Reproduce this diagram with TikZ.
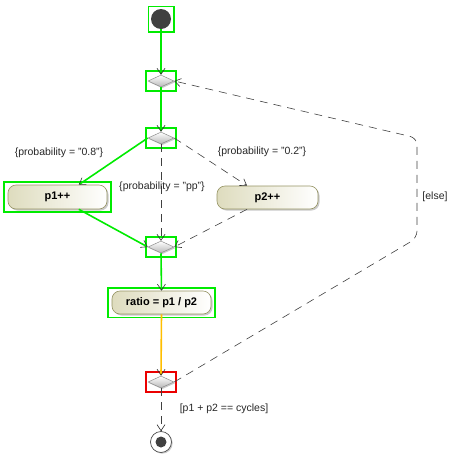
\documentclass[tikz,border=0pt]{standalone}
\usepackage{fontspec}
\setmainfont{Liberation Sans}
\usetikzlibrary{arrows.meta,shapes.geometric,shadows,fit}
\definecolor{selgreen}{RGB}{0,235,0}
\definecolor{selred}{RGB}{235,0,0}
\definecolor{actfill}{RGB}{222,220,190}
\definecolor{actborder}{RGB}{150,148,100}
\definecolor{hotflow}{RGB}{255,190,0}
\newcommand{\guardfont}{\fontsize{10.5}{12}\selectfont}

\begin{document}
\begin{tikzpicture}[x=1pt,y=-1pt,
    tip/.style={-{Straight Barb[length=6pt,width=8pt,color=black!80,line width=0.6pt]}},
    flow/.style={tip, draw=black!75, line width=0.6pt, dash pattern=on 8pt off 6pt},
    active/.style={tip, draw=selgreen, line width=1.6pt},
    hot/.style={tip, draw=hotflow, line width=1.6pt},
    action/.style={rectangle, rounded corners=8pt, draw=actborder, line width=0.6pt,
        left color=actfill, right color=white, minimum width=99pt, minimum height=24pt,
        inner sep=0pt, font=\bfseries\fontsize{11}{12}\selectfont,
        drop shadow={shadow xshift=1.5pt, shadow yshift=-1.5pt, fill=black!35, opacity=0.6}},
    decision/.style={diamond, draw=black!45, line width=0.5pt, top color=white,
        bottom color=black!28, minimum width=26pt, minimum height=12pt, inner sep=0pt,
        drop shadow={shadow xshift=1.2pt, shadow yshift=-1.2pt, fill=black!35, opacity=0.6}},
    selbox/.style={rectangle, draw=selgreen, line width=1.6pt, inner sep=0pt},
    guard/.style={font=\guardfont, text=black!85, inner sep=1pt},
]
    \useasboundingbox (0,0) rectangle (453,461);

    \node[circle, fill=black!75, minimum size=20pt, inner sep=0pt] (init) at (161,19) {};
    \node[decision] (d1) at (161,81) {};
    \node[decision] (d2) at (161,138) {};
    \node[action] (p1) at (57.5,197) {p1++};
    \node[action, minimum width=101pt, minimum height=23pt] (p2) at (267.5,197.5) {p2++};
    \node[decision] (m) at (161,247) {};
    \node[action, minimum height=23pt] (ratio) at (161.5,302.5) {ratio = p1 / p2};
    \node[decision] (d3) at (161,382) {};
    \node[circle, draw=black!70, line width=0.7pt, fill=white, minimum size=21pt, inner sep=0pt,
        drop shadow={shadow xshift=1.2pt, shadow yshift=-1.2pt, fill=black!35, opacity=0.6},
        path picture={\fill[black!75] (path picture bounding box.center) circle (5.5pt);}]
        (final) at (161,442) {};

    \node[selbox, fit=(init), inner sep=2.5pt] (initsel) {};
    \node[selbox, fit=(d1), inner xsep=2pt, inner ysep=4pt] (d1sel) {};
    \node[selbox, fit=(d2), inner xsep=2pt, inner ysep=4pt] (d2sel) {};
    \node[selbox, fit=(p1), inner xsep=3.5pt, inner ysep=2.5pt] (p1sel) {};
    \node[selbox, fit=(m), inner xsep=2pt, inner ysep=4pt] (msel) {};
    \node[selbox, fit=(ratio), inner xsep=3.5pt, inner ysep=3pt] (ratiosel) {};
    \node[selbox, draw=selred, fit=(d3), inner xsep=2pt, inner ysep=4pt] (d3sel) {};

    \coordinate (elsebot) at (417,238);
    \coordinate (elsetop) at (417,138);

    \draw[active] (init) -- (d1.north);
    \draw[active] (d1.south) -- (d2.north);
    \draw[active] (d2.west) -- (p1.30);
    \draw[flow] (d2.east) -- (p2.150);
    \draw[flow] (d2.south) -- (m.north);
    \draw[active] (p1.-30) -- (m.west);
    \draw[flow] (p2.-150) -- (m.east);
    \draw[active] (m.south) -- (ratio.north);
    \draw[hot] (ratio.south) -- (d3.north);
    \draw[flow, rounded corners=7pt] (d3.east) -- (elsebot) -- (elsetop) -- (d1.east);
    \draw[flow] (d3.south) -- (final.north);

    \node[guard] (g08) at (59,153) {\{probability = "0.8"\}};
    \node[guard] (g02) at (262,152) {\{probability = "0.2"\}};
    \node[guard] (gpp) at (162,187) {\{probability = "pp"\}};
    \node[guard] (gelse) at (435,197) {[else]};
    \node[guard] (gend) at (224,409) {[p1 + p2 == cycles]};
\end{tikzpicture}
\end{document}
